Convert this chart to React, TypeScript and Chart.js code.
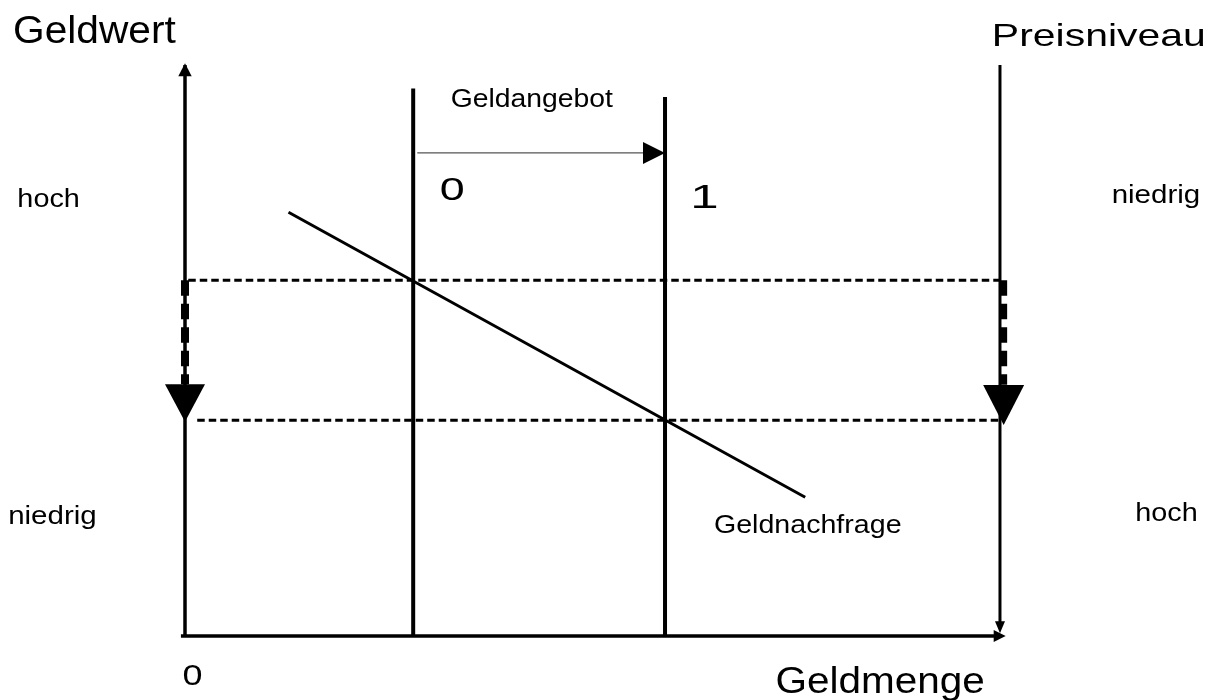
import React, { useEffect, useRef } from "react";
import { Chart, registerables } from "chart.js";

Chart.register(...registerables);

// ---------- data (abstract units: Geldmenge on x, Geldwert on y) ----------
const axisTitles = ["Geldwert", "Preisniveau", "Geldmenge"];
const leftTicks = ["hoch", "niedrig"];
const rightTicks = ["niedrig", "hoch"];
const curveLabels = ["Geldangebot", "Geldnachfrage"];
const supplyLabels = ["0", "1"];
const originLabel = "0";

const axisEndX = 10; // Geldmenge axis / Preisniveau axis position
const axisEndY = 10; // height of Geldwert / Preisniveau axes
const moneySupply = [2.8, 5.89]; // Geldangebot 0 and 1
const supplyTop = [9.59, 9.44];
const demandX = [1.27, 7.61]; // Geldnachfrage
const demandY = [7.42, 2.43];
const valueLevels = [6.23, 3.78]; // Geldwert before / after
const shiftArrowY = 8.46;
const shiftArrowStart = 2.85;
const dashStart = [0.04, 0.15];
const preisAxisShiftX = 10.045;
const dropArrowBase = [4.41, 4.4];
const dropArrowTip = [3.753, 3.695];

// ---------- view ----------
const X_MIN = -2.27;
const X_MAX = 12.712;
const Y_MIN = -1.121;
const Y_MAX = 11.138;

type Pt = { x: number; y: number };
const seg = (a: Pt, b: Pt) => [a, b];

const line = (label: string, data: Pt[], width: number, extra: any = {}) => ({
  label,
  data,
  showLine: true,
  pointRadius: 0,
  pointHoverRadius: 0,
  borderColor: "#000",
  backgroundColor: "#000",
  borderWidth: width,
  borderCapStyle: "butt",
  fill: false,
  tension: 0,
  ...extra,
});

// arrowheads (tips from data; sizes are styles)
const arrowHeads = [
  { x: 0, y: 10.03, dir: "up", len: 13, half: 6.7 },
  { x: moneySupply[1], y: shiftArrowY, dir: "right", len: 22, half: 11 },
  { x: 0, y: dropArrowTip[0], dir: "down", len: 37.4, half: 20 },
  { x: preisAxisShiftX, y: dropArrowTip[1], dir: "down", len: 40, half: 20.5 },
  { x: 10.07, y: 0, dir: "right", len: 12, half: 6 },
  { x: axisEndX, y: 0.05, dir: "down", len: 12, half: 5 },
];

// text placement (x, y in data units at baseline-left; size px; sx = horizontal stretch)
const textLayout = [
  { text: axisTitles[0], x: -2.11, y: 10.39, size: 38, sx: 1.07 },
  { text: axisTitles[1], x: 9.9, y: 10.34, size: 31.5, sx: 1.3 },
  { text: axisTitles[2], x: 7.245, y: -1.0, size: 37.5, sx: 1.08 },
  { text: leftTicks[0], x: -2.057, y: 7.52, size: 25.5, sx: 1.13 },
  { text: leftTicks[1], x: -2.17, y: 1.96, size: 25, sx: 1.18 },
  { text: rightTicks[0], x: 11.37, y: 7.58, size: 25, sx: 1.18 },
  { text: rightTicks[1], x: 11.66, y: 2.02, size: 25.5, sx: 1.13 },
  { text: curveLabels[0], x: 3.26, y: 9.26, size: 26, sx: 1.09 },
  { text: curveLabels[1], x: 6.49, y: 1.81, size: 26, sx: 1.1 },
  { text: supplyLabels[0], x: 3.126, y: 7.64, size: 32, sx: 1.4 },
  { text: supplyLabels[1], x: 6.2, y: 7.49, size: 34, sx: 1.5 },
  { text: originLabel, x: -0.03, y: -0.86, size: 29.5, sx: 1.22 },
];

const overlayPlugin = {
  id: "overlay",
  afterDatasetsDraw(chart: any) {
    const { ctx } = chart;
    const xs = chart.scales.x;
    const ys = chart.scales.y;
    ctx.save();
    ctx.fillStyle = "#000";
    arrowHeads.forEach((a) => {
      const tx = xs.getPixelForValue(a.x);
      const ty = ys.getPixelForValue(a.y);
      ctx.beginPath();
      if (a.dir === "up") {
        ctx.moveTo(tx, ty);
        ctx.lineTo(tx - a.half, ty + a.len);
        ctx.lineTo(tx + a.half, ty + a.len);
      } else if (a.dir === "down") {
        ctx.moveTo(tx, ty);
        ctx.lineTo(tx - a.half, ty - a.len);
        ctx.lineTo(tx + a.half, ty - a.len);
      } else {
        ctx.moveTo(tx, ty);
        ctx.lineTo(tx - a.len, ty - a.half);
        ctx.lineTo(tx - a.len, ty + a.half);
      }
      ctx.closePath();
      ctx.fill();
    });
    textLayout.forEach((t) => {
      ctx.save();
      ctx.font = `${t.size}px "Liberation Sans", Arial, sans-serif`;
      ctx.textBaseline = "alphabetic";
      ctx.textAlign = "left";
      ctx.translate(xs.getPixelForValue(t.x), ys.getPixelForValue(t.y));
      ctx.scale(t.sx, 1);
      ctx.fillText(t.text, 0, 0);
      ctx.restore();
    });
    ctx.restore();
  },
};

export default function App() {
  const ref = useRef<HTMLCanvasElement | null>(null);

  useEffect(() => {
    document.body.style.margin = "0";
    const canvas = ref.current;
    if (!canvas) return;

    const datasets = [
      line("Geldwert-Achse", seg({ x: 0, y: 0 }, { x: 0, y: 10.0 }), 3.5),
      line("Preisniveau-Achse", seg({ x: axisEndX, y: axisEndY }, { x: axisEndX, y: 0.2 }), 3),
      line("Geldmenge-Achse", seg({ x: -0.05, y: 0 }, { x: 10.0, y: 0 }), 3.5),
      line("Geldangebot 0", seg({ x: moneySupply[0], y: 0 }, { x: moneySupply[0], y: supplyTop[0] }), 4),
      line("Geldangebot 1", seg({ x: moneySupply[1], y: 0 }, { x: moneySupply[1], y: supplyTop[1] }), 4),
      line("Geldnachfrage", seg({ x: demandX[0], y: demandY[0] }, { x: demandX[1], y: demandY[1] }), 3),
      line("Geldwert alt", seg({ x: dashStart[0], y: valueLevels[0] }, { x: axisEndX, y: valueLevels[0] }), 3, { borderDash: [7.5, 4] }),
      line("Geldwert neu", seg({ x: dashStart[1], y: valueLevels[1] }, { x: axisEndX, y: valueLevels[1] }), 3, { borderDash: [7.5, 4] }),
      line("Rückgang Geldwert", seg({ x: 0, y: valueLevels[0] }, { x: 0, y: dropArrowBase[0] }), 8, { borderDash: [15.5, 8] }),
      line("Anstieg Preisniveau", seg({ x: preisAxisShiftX, y: valueLevels[0] }, { x: preisAxisShiftX, y: dropArrowBase[1] }), 7, { borderDash: [15.5, 8] }),
      line("Verschiebung", seg({ x: shiftArrowStart, y: shiftArrowY }, { x: moneySupply[1] - 0.2, y: shiftArrowY }), 1.3, { borderColor: "#555" }),
    ];

    const chart = new Chart(canvas, {
      type: "scatter",
      data: { datasets } as any,
      options: {
        responsive: false,
        animation: false,
        events: [],
        layout: { padding: 0 },
        plugins: { legend: { display: false }, tooltip: { enabled: false }, title: { display: false } },
        scales: {
          x: { type: "linear", min: X_MIN, max: X_MAX, display: false },
          y: { type: "linear", min: Y_MIN, max: Y_MAX, display: false },
        },
      } as any,
      plugins: [overlayPlugin],
    });
    return () => chart.destroy();
  }, []);

  return (
    <div style={{ position: "fixed", left: 0, top: 0, width: 1221, height: 700, background: "#fff" }}>
      <canvas ref={ref} width={1221} height={700} style={{ display: "block" }} />
    </div>
  );
}
